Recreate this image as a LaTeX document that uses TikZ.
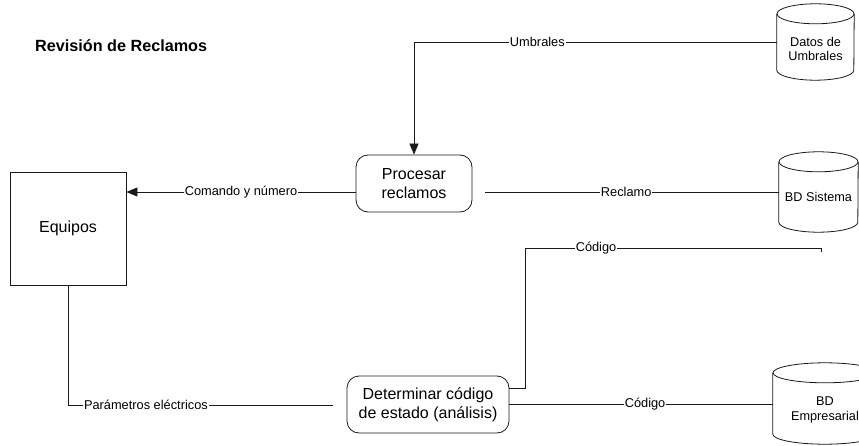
\documentclass[tikz,border=0pt]{standalone}
\usepackage{fontspec}
\setmainfont{Liberation Sans}
\usetikzlibrary{arrows.meta}

% draws a database cylinder over the (undrawn) node #1; #2 = radius of the end ellipses
\newcommand\dbdrum[2]{%
  \draw[flow] ([yshift=-#2pt]#1.north west) -- ([yshift=#2pt]#1.south west)
    arc[start angle=180, end angle=360, x radius=\dbrx, y radius=#2]
    -- ([yshift=-#2pt]#1.north east);
  \draw[flow] ([yshift=-#2pt]#1.north) ellipse[x radius=\dbrx, y radius=#2];
}

\begin{document}
\begin{tikzpicture}[x=1pt,y=1pt,
  flow/.style={draw=black!90, line width=0.8pt},
  proc/.style={flow, rounded corners=12pt, align=center, inner sep=0pt,
    font=\fontsize{16}{19}\selectfont},
  ent/.style={flow, inner sep=0pt, font=\fontsize{16}{19}\selectfont},
  dbbox/.style={inner sep=0pt},
  dbtext/.style={align=center, inner sep=0pt, font=\fontsize{12.7}{14.5}\selectfont},
  lbl/.style={fill=white, inner sep=1pt, font=\fontsize{12.8}{14}\selectfont},
  arr/.style={-{Triangle[length=11pt,width=9pt]}},
  title/.style={anchor=west, inner sep=0pt, font=\fontsize{16.2}{18}\selectfont\bfseries},
]
\useasboundingbox (0,0) rectangle (859,445);
\clip (0,0) rectangle (859,445);

% title
\node[title] (ttl) at (35,399) {Revisión de Reclamos};

% processes and external entity
\node[proc, minimum width=116pt, minimum height=57pt] (proc) at (414,261.5) {Procesar\\reclamos};
\node[proc, minimum width=162pt, minimum height=57pt] (det) at (428,40.5) {Determinar código\\de estado (análisis)};
\node[ent, minimum width=116pt, minimum height=113pt] (equ) at (68,216.5) {Equipos};

% data stores
\node[dbbox, minimum width=77pt, minimum height=76pt] (dat) at (815.5,403) {};
\def\dbrx{38.5}\dbdrum{dat}{10}
\node[dbtext] (datt) at (815.5,396) {Datos de\\Umbrales};

\node[dbbox, minimum width=79pt, minimum height=80pt] (sis) at (818.5,253) {};
\def\dbrx{39.5}\dbdrum{sis}{10}
\node[dbtext] (sist) at (818.5,248) {BD Sistema};

\node[dbbox, minimum width=104pt, minimum height=81pt] (emp) at (825,41.5) {};
\def\dbrx{52}\dbdrum{emp}{10}
\node[dbtext] (empt) at (825,35) {BD\\Empresarial};

% flows
\draw[flow, arr] (dat.west) -- node[lbl, pos=0.66] {Umbrales} (proc.north |- dat.west) -- (proc.north);

\coordinate (cmd) at ([yshift=-8.5pt]proc.west);
\draw[flow, arr] (cmd) -- node[lbl] {Comando y número} (cmd -| equ.east);

\coordinate (rec) at ([yshift=-8.5pt, xshift=13pt]proc.east);
\draw[flow] (rec) -- node[lbl, pos=0.48] {Reclamo} (rec -| sis.west);

\coordinate (codA) at (821,193);
\coordinate (codB) at (525,197);
\coordinate (codC) at ([yshift=16.5pt]det.east);
\draw[flow] (codA) |- node[lbl, pos=0.88] {Código} (codB) |- (codC);

\coordinate (par) at (333,40);
\draw[flow] (equ.south) |- node[lbl, pos=0.647] {Parámetros eléctricos} (par);

\draw[flow] (det.east) -- node[lbl, pos=0.515] {Código} (det.east -| emp.west);
\end{tikzpicture}
\end{document}
